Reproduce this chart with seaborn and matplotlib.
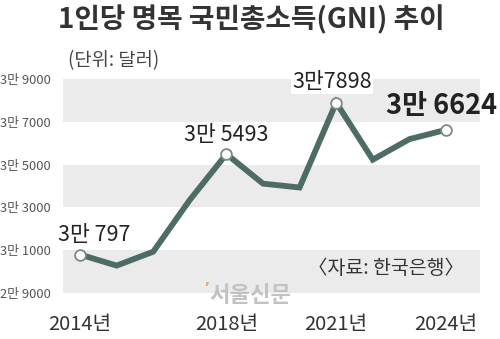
import matplotlib
matplotlib.use("Agg")
import matplotlib.pyplot as plt
import seaborn as sns
import pandas as pd

years = [2014, 2015, 2016, 2017, 2018, 2019, 2020, 2021, 2022, 2023, 2024]
gni = [30797, 30280, 30930, 33350, 35493, 34110, 33930, 37898, 35230, 36190, 36624]
marked_years = [2014, 2018, 2021, 2024]
ytick_values = [29000, 31000, 33000, 35000, 37000, 39000]
ytick_labels = ["2만 9000", "3만 1000", "3만 3000", "3만 5000", "3만 7000", "3만 9000"]
xtick_labels = ["2014년", "2018년", "2021년", "2024년"]

sns.set_style("white")
plt.rcParams["font.family"] = ["Noto Sans CJK KR", "DejaVu Sans"]

W, H = 500, 339
fig = plt.figure(figsize=(W / 100, H / 100), dpi=100)
ax = fig.add_axes([63 / W, 1 - 293 / H, (480 - 63) / W, (293 - 79) / H])

df = pd.DataFrame({"year": years, "gni": gni})
line_color = "#4e6c66"

# alternating background bands
for lo, hi in [(29000, 31000), (33000, 35000), (37000, 39000)]:
    ax.axhspan(lo, hi, color="#ebebeb", lw=0, zorder=0)

sns.lineplot(data=df, x="year", y="gni", color=line_color, lw=4.2,
             ax=ax, zorder=2, solid_joinstyle="miter")
mk = df[df["year"].isin(marked_years)]
ax.scatter(mk["year"], mk["gni"], s=60, facecolor="white",
           edgecolor="#7a8a86", linewidth=1.3, zorder=3)

ax.set_xlim(2014 - 17 / 36.6, 2024 + 34 / 36.6)
ax.set_ylim(29000, 39000)

for s in ax.spines.values():
    s.set_visible(False)

ax.set_yticks(ytick_values)
ax.set_yticklabels(ytick_labels, fontsize=9.3, color="#555555")
for t in ax.get_yticklabels():
    t.set_ha("left")
ax.tick_params(axis="y", length=0, pad=45)

ax.set_xticks(marked_years)
ax.set_xticklabels(xtick_labels, fontsize=14.5, color="#333333")
ax.tick_params(axis="x", length=7, width=0.9, color="#888888", pad=8,
               direction="out")
ax.set_xlabel("")
ax.set_ylabel("")

# value labels
ax.annotate("3만 797", (2014, 30797), xytext=(10, 6), textcoords="offset points",
            ha="center", va="bottom", fontsize=15.5, color="#222222", zorder=4)
ax.annotate("3만 5493", (2018, 35493), xytext=(0, 6), textcoords="offset points",
            ha="center", va="bottom", fontsize=15.5, color="#222222", zorder=4)
ax.annotate("3만7898", (2021, 37898), xytext=(-3, 7), textcoords="offset points",
            ha="center", va="bottom", fontsize=15.5, color="#222222", zorder=4,
            annotation_clip=False,
            bbox=dict(facecolor="white", edgecolor="none", pad=1))
ax.annotate("3만 6624", (2024, 36624), xytext=(-3, 7), textcoords="offset points",
            ha="center", va="bottom", fontsize=19.5, weight="bold",
            color="#222222", zorder=4, annotation_clip=False)

fig.text(251 / W, 1 - 20 / H, "1인당 명목 국민총소득(GNI) 추이", ha="center",
         va="center", fontsize=20, weight="bold", color="#333333")
fig.text(68 / W, 1 - 61 / H, "(단위: 달러)", ha="left", va="center",
         fontsize=13.5, color="#444444")
fig.text(386 / W, 1 - 268 / H, "〈자료: 한국은행〉", ha="center", va="center",
         fontsize=14, color="#333333")
fig.text(250 / W, 1 - 295 / H, "서울신문", ha="center", va="center",
         fontsize=16, weight="bold", color="#c2c2c2")
fig.text(207 / W, 1 - 287 / H, "\u02bc", ha="center", va="center",
         fontsize=9, weight="bold", color="#f0a040", family="DejaVu Sans")

fig.savefig("out.png", dpi=100)
